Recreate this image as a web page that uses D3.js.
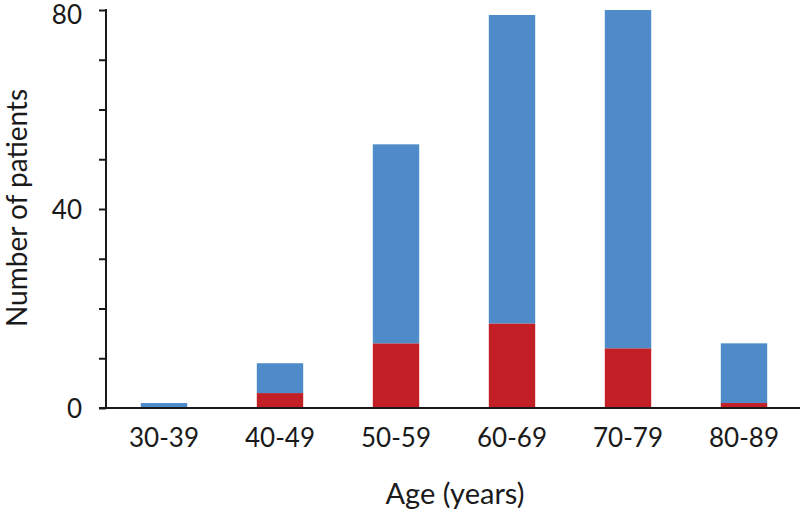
<!DOCTYPE html>
<html>
<head>
<meta charset="utf-8">
<script src="https://cdn.jsdelivr.net/npm/d3@7"></script>
<style>
  html, body { margin: 0; padding: 0; background: #fff; }
  svg { display: block; }
  text { font-family: Lato, "Open Sans", sans-serif; fill: #1a1a1a; }
</style>
</head>
<body>
<svg id="chart" width="800" height="509"></svg>
<script>
const categories = ["30-39", "40-49", "50-59", "60-69", "70-79", "80-89"];
const redValues = [0, 3, 13, 17, 12, 1];
const blueValues = [1, 6, 40, 62, 68, 12];
const yTickLabels = [0, 40, 80];
const yMinorTicks = [0, 10, 20, 30, 40, 50, 60, 70, 80];

const svg = d3.select("#chart");
const mLeft = 106, mRight = 802, mTop = 10, mBottom = 408;

const x = d3.scaleBand().domain(categories).range([mLeft, mRight]).paddingInner(0.6).paddingOuter(0.3);
const y = d3.scaleLinear().domain([0, 80]).range([mBottom, mTop]);

const data = categories.map((c, i) => ({ cat: c, red: redValues[i], blue: blueValues[i] }));
const stack = d3.stack().keys(["red", "blue"])(data);
const colors = { red: "#c21f27", blue: "#4f8bc9" };

svg.append("g").selectAll("g").data(stack).join("g")
  .attr("fill", d => colors[d.key])
  .selectAll("rect").data(d => d).join("rect")
  .attr("x", d => x(d.data.cat))
  .attr("width", x.bandwidth())
  .attr("y", d => y(d[1]))
  .attr("height", d => y(d[0]) - y(d[1]));

// y axis
const yAxisG = svg.append("g").attr("transform", `translate(${mLeft},0)`)
  .call(d3.axisLeft(y).tickValues(yMinorTicks).tickSize(7).tickFormat(d => yTickLabels.includes(d) ? d : "").tickPadding(17));
yAxisG.select(".domain").attr("stroke", "#1a1a1a").attr("stroke-width", 2).attr("d", `M0,${y(80) - 1}V${y(0)}`);
yAxisG.selectAll(".tick line").attr("stroke", "#1a1a1a").attr("stroke-width", 2);
yAxisG.selectAll(".tick text").attr("font-size", 26).attr("font-family", "Lato, sans-serif").attr("fill", "#1a1a1a")
  .attr("dy", d => d === 80 ? "0.52em" : "0.35em");

// x axis
const xAxisG = svg.append("g").attr("transform", `translate(0,${mBottom})`)
  .call(d3.axisBottom(x).tickSize(0).tickPadding(21));
xAxisG.select(".domain").attr("stroke", "#1a1a1a").attr("stroke-width", 2).attr("d", `M${mLeft - 7},0H800`);
xAxisG.selectAll(".tick text").attr("font-size", 26).attr("font-family", "Lato, sans-serif").attr("fill", "#1a1a1a");

svg.append("text").attr("x", 455).attr("y", 504).attr("text-anchor", "middle")
  .attr("font-size", 29).text("Age (years)");
svg.append("text").attr("transform", "translate(27,208) rotate(-90)")
  .attr("text-anchor", "middle").attr("font-size", 28).text("Number of patients");
</script>
</body>
</html>
